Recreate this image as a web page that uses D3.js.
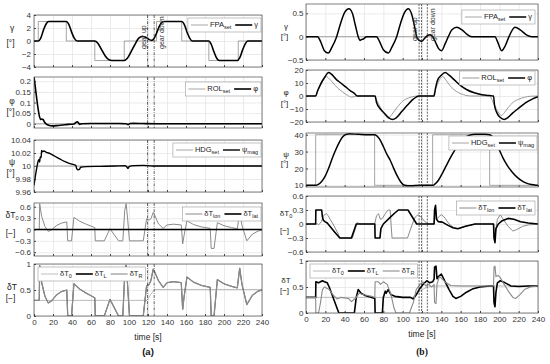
<!DOCTYPE html>
<html>
<head>
<meta charset="utf-8">
<script src="https://cdn.jsdelivr.net/npm/d3@7"></script>
<style>
  body { margin: 0; background: #fff; }
  svg { font-family: "Liberation Sans", Arial, sans-serif; }
</style>
</head>
<body>
<svg id="chart" width="550" height="364"></svg>
<script>
// ---------- data: [time s, value] ----------
const timeTicks = [0, 20, 40, 60, 80, 100, 120, 140, 160, 180, 200, 220, 240];

// (a)
const fpaSetA = [[0,0],[4.5,3],[34,0],[64,-3],[95,0],[129,3],[155.5,0],[184,-3],[215,0],[240,0]];
const gammaA = [[0,0],[4.5,0],[7,0.4],[10,1.7],[13,2.7],[15.5,3],[34,3],[36.5,2.6],[39.5,1.4],[42.5,0.4],[45.5,0],
  [64,0],[67,-0.3],[71,-1.3],[75,-2.3],[79,-2.9],[82,-3],[95,-3],[98,-2.7],[102,-1.7],[106,-0.6],[110,0.4],[114,0.7],
  [118,0.55],[121,0.25],[124,0.1],[126,0.3],[129,1.2],[132,2.3],[135,2.9],[137,3],[155.5,3],[158,2.6],[161,1.4],
  [164,0.4],[166.5,0],[184,0],[186.5,-0.5],[189.5,-1.7],[192.5,-2.7],[195,-3],[214,-3],[216.5,-2.6],[219.5,-1.4],
  [222.5,-0.4],[225,0],[240,0]];
const rolSetA = [[0,0],[240,0]];
const phiA = [[0,0.22],[2,0.15],[4,0.08],[6,0.03],[7,0.02],[8,0.022],[9.5,0.02],[11,0.008],[13,-0.002],[16,-0.008],
  [19,-0.01],[24,-0.009],[30,-0.006],[36,-0.003],[42,-0.001],[44,0.006],[45.5,0.009],[47,0.003],[48,-0.003],[50,0],
  [60,0.001],[90,0.001],[97,0],[99,-0.004],[101,0.001],[105,0.002],[115,0.001],[130,0],[240,0]];
const hdgSetA = [[0,10],[240,10]];
const psiA = [[0,9.97],[1.5,9.985],[3,9.998],[4.5,10.008],[5.5,10.01],[6,10.006],[6.5,10.014],[7.5,10.013],[8,10.024],
  [9,10.022],[10.5,10.023],[13,10.021],[17,10.019],[22,10.015],[27,10.011],[32,10.007],[37,10.004],[42,10.002],
  [44,10.001],[45,9.996],[46.5,9.994],[48,9.995],[49,9.998],[55,9.999],[70,9.9995],[85,10],[96,10.0005],[98,9.998],
  [99,9.996],[100,9.999],[105,10.0005],[115,10.001],[125,10],[240,10]];
const dTlonA = [[0,0],[5.5,0],[6,0.68],[8,0.35],[11.5,0.08],[15,-0.05],[18.5,-0.01],[24,0.11],[29,0.17],[34.5,0.2],
  [35.5,-0.3],[39.5,-0.3],[42,0.32],[48,0.22],[54,0.15],[60,0.09],[64,0.05],[64.5,-0.3],[74,-0.3],[80,0.02],[89,-0.3],
  [93.5,-0.3],[95.5,0.5],[97,0.68],[98.5,0.3],[100.5,-0.3],[115,-0.3],[118.5,0.28],[121,0.25],[123,0.28],[125.5,0.45],
  [127,0.38],[131,0.15],[136,0.03],[140,0.12],[147,0.14],[155,0.12],[156.5,-0.38],[158,-0.15],[161,0.23],[168,0.13],
  [176,0.07],[185.5,0.03],[186.5,-0.5],[189.5,-0.5],[193,0.18],[200,0.1],[208,0.05],[214,0.02],[216.5,0.45],[219,0.1],
  [224,-0.3],[230,-0.12],[236,-0.04],[240,-0.02]];
const dTlatA = [[0,0],[240,0]];
const dT0A = [[0,0.3],[119,0.3],[123,0.42],[127,0.51],[240,0.51]];
const dTLA = [[0,0.3],[5.5,0.3],[6,0.97],[8,0.65],[11.5,0.38],[15,0.25],[18.5,0.29],[24,0.41],[29,0.47],[34.5,0.5],
  [35.5,0],[39.5,0],[42,0.62],[48,0.52],[54,0.45],[60,0.39],[64,0.35],[64.5,0],[74,0],[80,0.32],[89,0],[93.5,0],
  [95.5,0.8],[97,0.98],[98.5,0.6],[100.5,0],[115,0],[118.5,0.58],[121,0.6],[123,0.68],[125.5,0.9],[127,0.85],
  [131,0.68],[136,0.55],[140,0.64],[147,0.66],[155,0.64],[156.5,0.13],[158,0.37],[161,0.75],[168,0.65],[176,0.59],
  [185.5,0.55],[186.5,0],[189.5,0],[193,0.7],[200,0.62],[208,0.57],[214,0.54],[216.5,0.92],[219,0.6],[224,0.22],
  [230,0.4],[236,0.48],[240,0.5]];
const dTRA = dTLA; // right engine overlays the left one in (a)
const gearA = [119.5, 126.5];

// (b)
const fpaSetB = [[0,0],[240,0]];
const gammaB = [[0,0],[12,0],[15,-0.1],[19,-0.3],[23,-0.35],[27,-0.22],[31.7,0],[36,0.3],[40,0.52],[44.4,0.6],[48,0.5],
  [51,0.25],[54,0],[55.8,-0.08],[57.5,-0.06],[59.3,-0.05],[62.7,0],[73,0],[76,-0.1],[80,-0.28],[85.2,-0.35],[89,-0.22],
  [93.8,0],[98,0.3],[102,0.52],[105.8,0.6],[109,0.5],[112,0.25],[114.5,0],[117,-0.08],[119.6,-0.1],[123,-0.03],
  [126,0.03],[128.3,0.04],[131,0],[134,-0.12],[137,-0.25],[140.3,-0.3],[144,-0.15],[147.2,0],[151,0.15],[155.9,0.2],
  [161,0.15],[166,0.06],[171.4,0],[195.5,0],[198,-0.1],[202.4,-0.3],[206,-0.2],[210,0],[216.2,0.2],[222,0.14],
  [228,0.04],[233.4,0],[240,0]];
const rolSetB = [[0,0],[9.5,0],[13,5],[17,11],[21,15],[23,14],[28,10],[33,6],[38,3],[43,0.5],[47,-0.8],[50,-0.5],[53,0],
  [70,0],[73,-3],[77,-9],[81,-14],[85,-17],[89,-14],[94,-9],[100,-4],[106,-1.5],[112,-0.3],[116,0],[131,0],[133,3],
  [136,9],[139,13.5],[141.5,15],[145,12],[149,8],[153,5],[158,2.5],[163,1],[170,0],[190,0],[193,-4],[197,-10],
  [200,-13.5],[202,-15],[205,-13],[209,-9],[214,-5],[220,-2.5],[226,-1],[232,-0.2],[240,0]];
const phiB = [[0,0],[10,0],[12,4],[15,9],[19,14],[23.5,18],[26,17],[31,13],[36,10],[41,7],[46,4],[50,2],[53,0],
  [71.5,0],[73,-5],[77,-10],[82,-14],[86,-17],[89.5,-18],[93,-17],[99,-12],[105,-7],[110,-3],[114,-0.8],[117,0],
  [132.5,0],[134,6],[136,12],[140,16],[144,18],[148,16],[154,12],[160,8],[166,5],[174,2.5],[182,1],[190,0.3],[194,0],
  [195,-7],[197.5,-13],[201,-16.5],[205,-18],[209,-16.5],[214,-13],[219,-10],[224,-7],[230,-4],[235,-2],[240,-0.5]];
const hdgSetB = [[0,10],[10,40],[71,10],[131,40],[190,10],[240,10]];
const psiB = [[0,10],[10.5,10],[12,10.3],[15,11.5],[19,14.5],[23,19.5],[26.5,25],[30,30],[34,35],[38,38.8],[42,40.3],
  [45,40.5],[55,40.2],[65,40],[71,40],[73,39.5],[76,37.5],[80,33],[84,28],[87,25],[90,21],[94,16],[98,12],[102,10],
  [105,9.7],[110,9.8],[120,10],[131.5,10],[133,10.5],[137,13],[141,17],[145,21.5],[149,26],[153,30],[157,33.5],
  [161,36.5],[165,38.5],[170,39.8],[175,40.2],[185,40.2],[190,40],[192.5,39],[196,36],[200,31],[204,26],[208,22],
  [213,18],[218,15],[223,12.8],[228,11.3],[233,10.5],[238,10.1],[240,10]];
const dTlonB = [[0,0],[12,0],[13,-0.02],[16,0.05],[18,0.18],[21,0.22],[23,0.18],[25,0.1],[28,0],[33,-0.2],[35,-0.3],
  [48,-0.3],[51,-0.1],[53,0.03],[56,0],[71,0],[73,0.18],[75,0.22],[77,0.1],[79,0.12],[82,0.22],[85,0.3],[87,0.3],
  [89,-0.3],[105,-0.3],[110,0],[113,0.15],[116,0.2],[119,0.15],[123,0.05],[126,0],[132.5,0],[133,0.25],[134,0.35],
  [135,0.1],[137,0.15],[140,0.2],[143,0.15],[148,0],[153,-0.08],[158,-0.1],[165,-0.05],[175,0],[194,0],[195,-0.3],
  [196.5,-0.1],[198,0.1],[201,0.2],[204,0.1],[209,-0.05],[214,-0.15],[218,-0.12],[224,-0.05],[230,-0.02],[240,0]];
const dTlatB = [[0,0],[10,0],[10.2,0.3],[16.2,0.3],[17,0.15],[18,0.08],[19.5,0.05],[22,0.02],[26,-0.08],[30,-0.18],
  [35,-0.3],[47,-0.3],[52,0],[71.2,0],[71.5,-0.3],[76.5,-0.3],[77.5,-0.1],[80,0],[86,0.12],[91,0.22],[95.5,0.3],
  [105.5,0.3],[110,0.15],[114.5,0],[132.5,0],[133,0.3],[134,0.4],[135,0.1],[137,0.05],[141,0.04],[147,-0.03],
  [152,-0.08],[157,-0.1],[165,-0.05],[175,0],[194,0],[194.5,-0.3],[195.5,-0.4],[196.5,-0.1],[199,0],[203,0.07],
  [209,0.12],[215,0.1],[222,0.05],[230,0.02],[240,0]];
const dT0B = [[0,0.3],[110,0.3],[118,0.42],[125,0.5],[135,0.52],[240,0.52]];
const dTLB = [[0,0.3],[10,0.3],[10.2,0.6],[13,0.58],[15,0.6],[17,0.62],[19,0.6],[22,0.58],[24,0.5],[27,0.35],[31,0.15],
  [34,0],[50,0],[52,0.3],[54,0.45],[57,0.38],[62,0.33],[68,0.3],[71.2,0.28],[71.5,0],[79,0],[80,0.3],[82,0.42],
  [83,0.38],[85,0.45],[88,0.35],[92,0.32],[100,0.3],[108,0.3],[111,0.27],[114,0.35],[117,0.45],[121,0.55],[125,0.62],
  [128,0.58],[131,0.6],[132.5,0.65],[133,0.88],[134.5,0.9],[135.5,0.66],[137,0.7],[140,0.75],[144,0.6],[148,0.45],
  [152,0.32],[155,0.28],[160,0.32],[166,0.4],[172,0.46],[180,0.5],[190,0.52],[194,0.52],[194.5,0.2],[195.5,0.12],
  [196.5,0.4],[198,0.58],[201,0.62],[206,0.58],[212,0.52],[220,0.51],[230,0.52],[240,0.52]];
const dTRB = [[0,0.3],[10,0.3],[10.2,0],[13,0],[15,0.2],[17,0.45],[19,0.5],[21,0.48],[24,0.45],[28,0.35],[32,0.27],
  [36,0.3],[44,0.28],[47,0.22],[49,0.25],[52,0.3],[55,0.38],[60,0.35],[68,0.32],[71.2,0.3],[71.5,0.6],[75,0.6],
  [77,0.55],[80,0.6],[84,0.55],[88,0.35],[91,0.1],[93,0],[107,0],[109,0.1],[111,0.2],[114,0.45],[118,0.55],[121,0.6],
  [124,0.52],[127,0.55],[130,0.5],[132.5,0.55],[133,0.2],[134.5,0.18],[135.5,0.55],[138,0.7],[141,0.65],[145,0.58],
  [150,0.53],[160,0.52],[194,0.52],[194.5,0.88],[195.5,0.9],[196.5,0.7],[199,0.72],[201,0.68],[205,0.55],[210,0.4],
  [214,0.3],[217,0.28],[221,0.35],[226,0.45],[232,0.5],[240,0.52]];
const gearB = [117, 119.5, 125.5];

// ---------- styles ----------
const GRAY_SET = '#8f8f8f', GRAY_LON = '#8a8a8a', GRAY_T0 = '#ababab', BLACK = '#000';
const smooth = d3.curveMonotoneX, step = d3.curveStepAfter, lin = d3.curveLinear;

const svg = d3.select('#chart');
let clipId = 0;

const fmt = d => String(d).replace('-', '\u2212');

function drawLegend(g, items, ax, ay, alignRight) {
  const h = 14, lineLen = 17, pad = 3;
  const lg = g.append('g');
  const box = lg.append('rect');
  let cx = pad;
  items.forEach(it => {
    lg.append('line').attr('x1', cx).attr('x2', cx + lineLen)
      .attr('y1', h / 2).attr('y2', h / 2)
      .attr('stroke', it.color).attr('stroke-width', it.width);
    cx += lineLen + 2;
    const t = lg.append('text').attr('x', cx).attr('y', h / 2 + 2.4)
      .attr('font-size', 7.5).attr('fill', '#222');
    t.append('tspan').text(it.label[0]);
    if (it.label[1]) t.append('tspan').attr('font-size', 5.5).attr('dy', 2).text(it.label[1]);
    cx += t.node().getComputedTextLength() + 4;
  });
  const w = cx - 1;
  box.attr('width', w).attr('height', h).attr('fill', '#fff')
    .attr('stroke', '#9a9a9a').attr('stroke-width', 0.6);
  lg.attr('transform', `translate(${alignRight ? ax - w : ax},${ay})`);
}

function drawSide(side) {
  const x = d3.scaleLinear().domain([0, 240]).range([side.x0, side.x1]);
  const w = side.x1 - side.x0;

  side.panels.forEach((p, i) => {
    const y = d3.scaleLinear().domain(p.yDomain).range([p.bottom, p.top]);
    const h = p.bottom - p.top;
    const g = svg.append('g');
    const last = i === side.panels.length - 1;

    // grid
    g.append('g').attr('transform', `translate(0,${p.bottom})`)
      .call(d3.axisBottom(x).tickValues(timeTicks).tickSize(-h).tickFormat(''))
      .call(s => s.select('.domain').remove())
      .call(s => s.selectAll('line').attr('stroke', '#e2e2e2').attr('stroke-width', 0.7));
    g.append('g').attr('transform', `translate(${side.x0},0)`)
      .call(d3.axisLeft(y).tickValues(p.yTicks).tickSize(-w).tickFormat(''))
      .call(s => s.select('.domain').remove())
      .call(s => s.selectAll('line').attr('stroke', '#e2e2e2').attr('stroke-width', 0.7));

    // axes (ticks inward)
    g.append('g').attr('transform', `translate(${side.x0},0)`)
      .call(d3.axisLeft(y).tickValues(p.yTicks).tickSizeInner(-2).tickSizeOuter(0)
        .tickPadding(side.pad).tickFormat(fmt))
      .call(s => s.select('.domain').remove())
      .call(s => s.selectAll('line').attr('stroke', '#444'))
      .call(s => s.selectAll('text').attr('font-size', 8).attr('fill', '#333')
        .attr('font-family', '"Liberation Sans", Arial, sans-serif'));
    g.append('g').attr('transform', `translate(0,${p.bottom})`)
      .call(d3.axisBottom(x).tickValues(timeTicks).tickSizeInner(-2).tickSizeOuter(0)
        .tickPadding(3).tickFormat(last ? fmt : ''))
      .call(s => s.select('.domain').remove())
      .call(s => s.selectAll('line').attr('stroke', '#444'))
      .call(s => s.selectAll('text').attr('font-size', 8).attr('fill', '#333')
        .attr('font-family', '"Liberation Sans", Arial, sans-serif'));

    // series
    const id = 'clip' + (clipId++);
    svg.append('clipPath').attr('id', id).append('rect')
      .attr('x', side.x0).attr('y', p.top).attr('width', w).attr('height', h);
    const lines = g.append('g').attr('clip-path', `url(#${id})`);
    p.series.forEach(s => {
      lines.append('path').datum(s.data)
        .attr('fill', 'none').attr('stroke', s.color).attr('stroke-width', s.width)
        .attr('stroke-linejoin', 'round')
        .attr('d', d3.line().x(d => x(d[0])).y(d => y(d[1])).curve(s.curve));
    });

    // gear markers
    side.gear.forEach(t => {
      g.append('line').attr('x1', x(t)).attr('x2', x(t)).attr('y1', p.top).attr('y2', p.bottom)
        .attr('stroke', '#222').attr('stroke-width', 0.7).attr('stroke-dasharray', side.dash);
    });

    // frame
    g.append('rect').attr('x', side.x0).attr('y', p.top).attr('width', w).attr('height', h)
      .attr('fill', 'none').attr('stroke', '#4a4a4a').attr('stroke-width', 0.7);

    // y label (symbol + unit)
    const sym = g.append('text').attr('x', side.labX).attr('y', p.lab[0])
      .attr('text-anchor', 'middle').attr('font-size', side.labSize).attr('fill', '#222');
    sym.append('tspan').text(p.ylabel[0]);
    if (p.ylabel[1]) sym.append('tspan').attr('font-size', 5.5).attr('dy', 2).text(p.ylabel[1]);
    g.append('text').attr('x', side.labX - 1.5).attr('y', p.lab[1])
      .attr('text-anchor', 'middle').attr('font-size', side.labSize).attr('fill', '#222').text(p.unit);

    // legend
    drawLegend(g, p.series.map(s => ({ label: s.label, color: s.color, width: s.lw || Math.min(s.width, 1.6) })),
      p.legend[0], p.legend[1], p.legend[2]);

    if (i === 0) {
      side.gearText.forEach(gt => {
        g.append('text')
          .attr('transform', `translate(${gt.x},${gt.y}) rotate(-90)`)
          .attr('font-size', 7).attr('fill', '#333').text(gt.text);
      });
    }
  });

  const cx = (side.x0 + side.x1) / 2;
  svg.append('text').attr('x', cx).attr('y', side.timeY).attr('text-anchor', 'middle')
    .attr('font-size', 8.5).attr('fill', '#222').text('time [s]');
  svg.append('text').attr('x', cx).attr('y', 355).attr('text-anchor', 'middle')
    .attr('font-size', 9.5).attr('font-weight', 'bold').attr('fill', '#111')
    .attr('font-family', side.tagFont).text(side.tag);
}

const sideA = {
  x0: 34, x1: 262, pad: 3, labX: 12, labSize: 8.5, gear: gearA, dash: '3,1.2,0.8,1.2',
  timeY: 340, tag: '(a)', tagFont: '"Liberation Sans", Arial, sans-serif',
  gearText: [{ x: 145.5, y: 49, text: 'gear up' }, { x: 164, y: 49, text: 'gear down' }],
  panels: [
    { top: 15, bottom: 67, yDomain: [-4, 4], yTicks: [-4, -2, 0, 2, 4], ylabel: ['\u03b3'], unit: '[\u00b0]', lab: [31, 46],
      legend: [261, 18, true],
      series: [
        { data: fpaSetA, color: GRAY_SET, width: 0.8, curve: step, label: ['FPA', 'set'] },
        { data: gammaA, color: BLACK, width: 1.6, curve: smooth, label: ['\u03b3'] }] },
    { top: 77, bottom: 128, yDomain: [-0.02, 0.22], yTicks: [0, 0.05, 0.1, 0.15, 0.2], ylabel: ['\u03c6'], unit: '[\u00b0]', lab: [104, 115],
      legend: [261, 82, true],
      series: [
        { data: rolSetA, color: GRAY_SET, width: 0.8, curve: lin, label: ['ROL', 'set'] },
        { data: phiA, color: BLACK, width: 1.6, curve: smooth, label: ['\u03c6'] }] },
    { top: 140, bottom: 192, yDomain: [9.96, 10.04], yTicks: [9.96, 9.98, 10, 10.02, 10.04], ylabel: ['\u03c8'], unit: '[\u00b0]', lab: [165, 176],
      legend: [261, 143, true],
      series: [
        { data: hdgSetA, color: GRAY_SET, width: 0.8, curve: lin, label: ['HDG', 'set'] },
        { data: psiA, color: BLACK, width: 1.4, curve: smooth, label: ['\u03c8', 'mag'] }] },
    { top: 203, bottom: 256, yDomain: [-0.7, 0.7], yTicks: [-0.6, -0.3, 0, 0.3, 0.6], ylabel: ['\u03b4T', '0'], unit: '[\u2212]', lab: [218, 236],
      legend: [261, 207, true],
      series: [
        { data: dTlonA, color: GRAY_LON, width: 1, curve: lin, label: ['\u03b4T', 'lon'] },
        { data: dTlatA, color: BLACK, width: 1.6, curve: lin, label: ['\u03b4T', 'lat'] }] },
    { top: 264, bottom: 316, yDomain: [0, 1], yTicks: [0, 0.5, 1], ylabel: ['\u03b4T'], unit: '[\u2212]', lab: [290, 301],
      legend: [38, 267, false],
      series: [
        { data: dT0A, color: GRAY_T0, width: 0.8, curve: lin, label: ['\u03b4T', '0'] },
        { data: dTLA, color: BLACK, width: 0.7, lw: 1.6, curve: lin, label: ['\u03b4T', 'L'] },
        { data: dTRA, color: GRAY_LON, width: 1.3, lw: 1.1, curve: lin, label: ['\u03b4T', 'R'] }] }
  ]
};

const sideB = {
  x0: 306, x1: 538, pad: 2.5, labX: 286, labSize: 8, gear: gearB, dash: '2,1.2',
  timeY: 337, tag: '(b)', tagFont: '"Liberation Serif", "Times New Roman", serif',
  gearText: [{ x: 417, y: 41, text: 'gear up' }, { x: 435, y: 41, text: 'gear down' }],
  panels: [
    { top: 4, bottom: 60, yDomain: [-0.5, 0.7], yTicks: [-0.5, 0, 0.5], ylabel: ['\u03b3'], unit: '[\u00b0]', lab: [29, 39],
      legend: [535, 10, true],
      series: [
        { data: fpaSetB, color: GRAY_SET, width: 0.8, curve: lin, label: ['FPA', 'set'] },
        { data: gammaB, color: BLACK, width: 1.5, curve: smooth, label: ['\u03b3'] }] },
    { top: 70, bottom: 122, yDomain: [-20, 20], yTicks: [-20, -10, 0, 10, 20], ylabel: ['\u03c6'], unit: '[\u00b0]', lab: [95, 106],
      legend: [535, 71, true],
      series: [
        { data: rolSetB, color: GRAY_SET, width: 0.9, curve: smooth, label: ['ROL', 'set'] },
        { data: phiB, color: BLACK, width: 1.5, curve: smooth, label: ['\u03c6'] }] },
    { top: 133, bottom: 187, yDomain: [9, 41], yTicks: [10, 20, 30, 40], ylabel: ['\u03c8'], unit: '[\u00b0]', lab: [157, 166],
      legend: [537, 136, true],
      series: [
        { data: hdgSetB, color: GRAY_SET, width: 0.8, curve: step, label: ['HDG', 'set'] },
        { data: psiB, color: BLACK, width: 1.5, curve: smooth, label: ['\u03c8', 'mag'] }] },
    { top: 196, bottom: 252, yDomain: [-0.6, 0.6], yTicks: [-0.6, -0.3, 0, 0.3, 0.6], ylabel: ['\u03b4T', '0'], unit: '[\u2212]', lab: [216, 232.5],
      legend: [535, 201, true],
      series: [
        { data: dTlonB, color: GRAY_LON, width: 1, curve: lin, label: ['\u03b4T', 'lon'] },
        { data: dTlatB, color: BLACK, width: 1.6, curve: lin, label: ['\u03b4T', 'lat'] }] },
    { top: 261, bottom: 313, yDomain: [0, 1], yTicks: [0, 0.5, 1], ylabel: ['\u03b4T'], unit: '[\u2212]', lab: [283, 293],
      legend: [310, 264, false],
      series: [
        { data: dT0B, color: GRAY_T0, width: 0.8, curve: lin, label: ['\u03b4T', '0'] },
        { data: dTLB, color: BLACK, width: 1.6, curve: lin, label: ['\u03b4T', 'L'] },
        { data: dTRB, color: GRAY_LON, width: 1.1, curve: lin, label: ['\u03b4T', 'R'] }] }
  ]
};

drawSide(sideA);
drawSide(sideB);
</script>
</body>
</html>
